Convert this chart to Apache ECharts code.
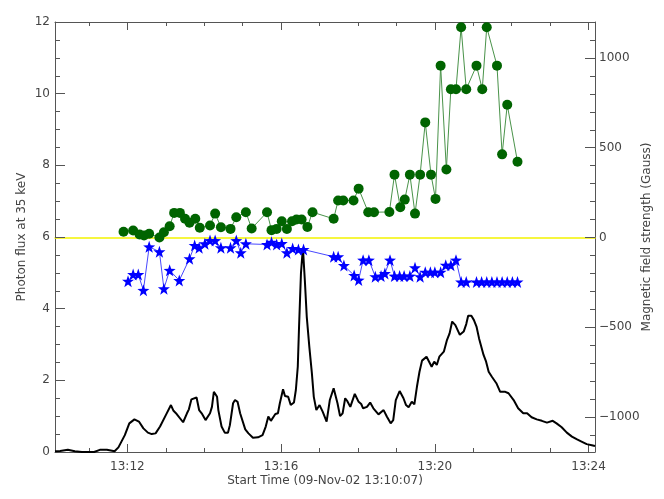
<!DOCTYPE html>
<html>
<head>
<meta charset="utf-8">
<title>Photon flux and magnetic field</title>
<script src="https://cdn.jsdelivr.net/npm/echarts@6/dist/echarts.min.js"></script>
<style>
  html, body { margin: 0; padding: 0; background: #fff; }
  #chart { width: 664px; height: 499px; }
</style>
</head>
<body>
<div id="chart"></div>
<script>
// time is seconds after the start time 13:10:07
const startLabel = '09-Nov-02 13:10:07'
const startSec = 13 * 3600 + 10 * 60 + 7
const endTime = 843

// photon flux at 35 keV (left axis)
const fluxTime = [
  0, 8, 20, 31, 42, 55, 61, 70, 81, 93,
  99, 109, 116, 124, 131, 138, 145, 151, 157, 164,
  173, 176, 181, 185, 190, 200, 206, 209, 213, 221,
  225, 229, 235, 242, 245, 248, 253, 255, 260, 265,
  270, 273, 278, 281, 285, 289, 297, 302, 309, 317,
  324, 329, 333, 337, 340, 344, 348, 351, 356, 359,
  364, 368, 373, 376, 379, 381, 384, 387, 390, 393,
  397, 401, 404, 408, 413, 418, 424, 429, 435, 437,
  441, 445, 449, 453, 456, 461, 468, 474, 478, 481,
  487, 492, 497, 505, 513, 518, 524, 528, 532, 538,
  541, 544, 548, 552, 557, 561, 565, 569, 573, 580,
  584, 588, 592, 596, 600, 607, 612, 616, 620, 625,
  628, 632, 638, 642, 645, 650, 654, 658, 662, 665,
  669, 673, 677, 682, 689, 695, 703, 708, 716, 723,
  731, 737, 744, 752, 760, 768, 777, 783, 791, 799,
  807, 815, 822, 830, 838, 843
]
const fluxValue = [
  0.02, 0.03, 0.06, 0.02, 0.00, 0.00, 0.00, 0.06, 0.06, 0.02,
  0.13, 0.47, 0.80, 0.91, 0.85, 0.66, 0.54, 0.50, 0.52, 0.71,
  1.03, 1.08, 1.31, 1.15, 1.06, 0.83, 1.08, 1.19, 1.47, 1.52,
  1.17, 1.08, 0.89, 1.08, 1.26, 1.68, 1.54, 1.17, 0.71, 0.54,
  0.54, 0.75, 1.36, 1.45, 1.40, 1.08, 0.63, 0.52, 0.40, 0.41,
  0.47, 0.71, 0.99, 0.87, 0.89, 1.06, 1.08, 1.36, 1.75, 1.56,
  1.54, 1.31, 1.38, 1.73, 2.38, 3.50, 5.00, 5.70, 4.80, 3.78,
  2.94, 2.20, 1.54, 1.17, 1.31, 1.12, 0.85, 1.45, 1.78, 1.81,
  1.36, 1.00, 1.08, 1.50, 1.43, 1.26, 1.62, 1.40, 1.34, 1.22,
  1.26, 1.38, 1.22, 1.05, 1.17, 0.99, 0.80, 0.89, 1.45, 1.70,
  1.66, 1.50, 1.31, 1.25, 1.40, 1.33, 1.82, 2.24, 2.55, 2.66,
  2.52, 2.38, 2.52, 2.43, 2.66, 2.80, 3.13, 3.31, 3.64, 3.54,
  3.57, 3.27, 3.36, 3.57, 3.80, 3.80, 3.68, 3.50, 3.17, 3.14,
  2.71, 2.52, 2.24, 2.10, 1.92, 1.68, 1.68, 1.64, 1.45, 1.22,
  1.08, 1.08, 0.97, 0.91, 0.87, 0.82, 0.87, 0.80, 0.69, 0.54,
  0.43, 0.35, 0.29, 0.22, 0.19, 0.17
]

// positive magnetic field, green circles (right axis)
const posTime = [
  107, 122, 132, 139, 147, 163, 170, 179, 186, 195,
  203, 210, 219, 226, 242, 250, 259, 274, 283, 298,
  307, 331, 338, 346, 354, 362, 370, 377, 385, 394,
  402, 435, 442, 450, 466, 474, 489, 498, 522, 530,
  539, 546, 554, 562, 570, 578, 587, 594, 602, 611,
  618, 626, 634, 642, 658, 667, 674, 690, 698, 706,
  722
]
const posGauss = [
  32, 39, 17, 11, 21, 0, 29, 63, 137, 137,
  104, 82, 104, 54, 67, 133, 57, 48, 113, 141,
  50, 141, 41, 48, 91, 48, 91, 100, 100, 59,
  141, 104, 206, 206, 206, 272, 141, 141, 142, 350,
  168, 211, 350, 133, 350, 641, 350, 215, 957, 379,
  826, 826, 1171, 826, 957, 826, 1171, 957, 463, 739,
  422
]

// negative magnetic field, blue stars (right axis)
const negTime = [
  114, 122, 130, 138, 147, 163, 170, 179, 194, 210,
  218, 225, 234, 242, 250, 259, 274, 283, 290, 298,
  331, 338, 346, 354, 362, 371, 380, 388, 435, 442,
  451, 467, 474, 481, 490, 500, 509, 515, 523, 530,
  538, 545, 554, 562, 570, 578, 586, 593, 602, 610,
  618, 626, 634, 642, 658, 666, 674, 682, 690, 698,
  706, 714, 722
]
const negGauss = [
  -243, -206, -206, -294, -52, -79, -285, -183, -239, -118,
  -44, -57, -35, -17, -17, -57, -57, -17, -85, -35,
  -39, -26, -39, -33, -85, -61, -67, -67, -107, -107,
  -156, -211, -237, -126, -126, -218, -215, -200, -126, -215,
  -215, -215, -215, -168, -218, -193, -193, -193, -193, -154,
  -154, -126, -248, -248, -248, -248, -248, -248, -248, -248,
  -248, -248, -248
]

// axis ticks
const majorMinutes = [12, 16, 20, 24]
const minorMinutes = [11, 13, 14, 15, 17, 18, 19, 21, 22, 23]
const gaussMajor = [-1000, -500, 0, 500, 1000]
const gaussMinor = [-1100, -900, -800, -700, -600, -400, -300, -200, -100,
  100, 200, 300, 400, 600, 700, 800, 900, 1100]
const gaussMin = -1194.4
const gaussMax = 1200

const toOffset = m => 13 * 3600 + m * 60 - startSec
const majorX = majorMinutes.map(toOffset)
const minorX = minorMinutes.map(toOffset)

const pair = (xs, ys) => xs.map((x, i) => [x, ys[i]])

const axisColor = '#555'
const textStyle = { color: '#444', fontSize: 12, fontFamily: 'DejaVu Sans' }
const starPath = 'path://M0,-10L2.35,-3.24L9.51,-3.09L3.8,1.24L5.88,8.09L0,4L-5.88,8.09L-3.8,1.24L-9.51,-3.09L-2.35,-3.24Z'

function fmtTime(v) {
  const s = Math.round(startSec + v)
  const h = Math.floor(s / 3600)
  const m = Math.floor((s % 3600) / 60)
  return h + ':' + (m < 10 ? '0' : '') + m
}

// ticks point into the plot: negative length
function xAxisPart(position, ticks, len, showLine, showLabel) {
  return {
    type: 'value',
    position: position,
    min: 0,
    max: endTime,
    axisLine: { show: showLine, onZero: false, lineStyle: { color: axisColor, width: 1 } },
    axisTick: { show: true, length: -len, customValues: ticks, lineStyle: { color: axisColor } },
    axisLabel: showLabel
      ? Object.assign({ customValues: ticks, margin: 9, formatter: fmtTime }, textStyle)
      : { show: false },
    splitLine: { show: false }
  }
}

const chart = echarts.init(document.getElementById('chart'), null, { renderer: 'canvas' })

const bottomAxis = xAxisPart('bottom', majorX, 8, true, true)
bottomAxis.name = 'Start Time (' + startLabel + ')'
bottomAxis.nameLocation = 'middle'
bottomAxis.nameGap = 23
bottomAxis.nameMoveOverlap = false
bottomAxis.nameTextStyle = textStyle

// yellow 0 Gauss line: an x axis sitting on zero of the Gauss axis
const zeroAxis = {
  type: 'value',
  position: 'bottom',
  min: 0,
  max: endTime,
  axisLine: { show: true, onZero: true, onZeroAxisIndex: 1, lineStyle: { color: '#f4f400', width: 1.5 } },
  axisTick: { show: false },
  axisLabel: { show: false },
  splitLine: { show: false }
}

const option = {
  animation: false,
  backgroundColor: '#fff',
  grid: { left: 55, right: 69, top: 22, bottom: 47, containLabel: false, outerBoundsMode: 'none' },
  xAxis: [
    bottomAxis,
    xAxisPart('bottom', minorX, 4, false, false),
    xAxisPart('top', majorX, 8, true, false),
    xAxisPart('top', minorX, 4, false, false),
    zeroAxis
  ],
  yAxis: [{
    type: 'value',
    position: 'left',
    min: 0,
    max: 12,
    interval: 2,
    name: 'Photon flux at 35 keV',
    nameLocation: 'middle',
    nameRotate: 90,
    nameGap: 27,
    nameMoveOverlap: false,
    nameTextStyle: textStyle,
    axisLine: { show: true, onZero: false, lineStyle: { color: axisColor, width: 1 } },
    axisTick: { show: true, length: -10, lineStyle: { color: axisColor } },
    minorTick: { show: true, splitNumber: 4, length: -5, lineStyle: { color: axisColor } },
    axisLabel: Object.assign({ margin: 5 }, textStyle),
    splitLine: { show: false }
  }, {
    type: 'value',
    position: 'right',
    min: gaussMin,
    max: gaussMax,
    name: 'Magnetic field strength (Gauss)',
    nameLocation: 'middle',
    nameRotate: 90,
    nameGap: 46,
    nameMoveOverlap: false,
    nameTextStyle: textStyle,
    axisLine: { show: true, onZero: false, lineStyle: { color: axisColor, width: 1 } },
    axisTick: { show: true, length: -10, customValues: gaussMajor, lineStyle: { color: axisColor } },
    axisLabel: Object.assign({ margin: 4, customValues: gaussMajor, formatter: v => String(v).replace('-', '\u2212') }, textStyle),
    splitLine: { show: false }
  }, {
    type: 'value',
    position: 'right',
    min: gaussMin,
    max: gaussMax,
    axisLine: { show: false, onZero: false },
    axisTick: { show: true, length: -5, customValues: gaussMinor, lineStyle: { color: axisColor } },
    axisLabel: { show: false },
    splitLine: { show: false }
  }],
  series: [{
    name: 'flux',
    type: 'line',
    xAxisIndex: 0,
    yAxisIndex: 0,
    data: pair(fluxTime, fluxValue),
    showSymbol: false,
    symbol: 'none',
    lineStyle: { color: '#000', width: 2 },
    z: 3
  }, {
    name: 'positive',
    type: 'line',
    xAxisIndex: 0,
    yAxisIndex: 1,
    data: pair(posTime, posGauss),
    symbol: 'circle',
    symbolSize: 10,
    itemStyle: { color: '#006400' },
    lineStyle: { color: '#4a934a', width: 1 },
    z: 4
  }, {
    name: 'negative',
    type: 'line',
    xAxisIndex: 0,
    yAxisIndex: 1,
    data: pair(negTime, negGauss),
    symbol: starPath,
    symbolSize: 12,
    itemStyle: { color: '#0000ff' },
    lineStyle: { color: '#4848ff', width: 1 },
    z: 4
  }]
}
chart.setOption(option)
</script>
</body>
</html>
